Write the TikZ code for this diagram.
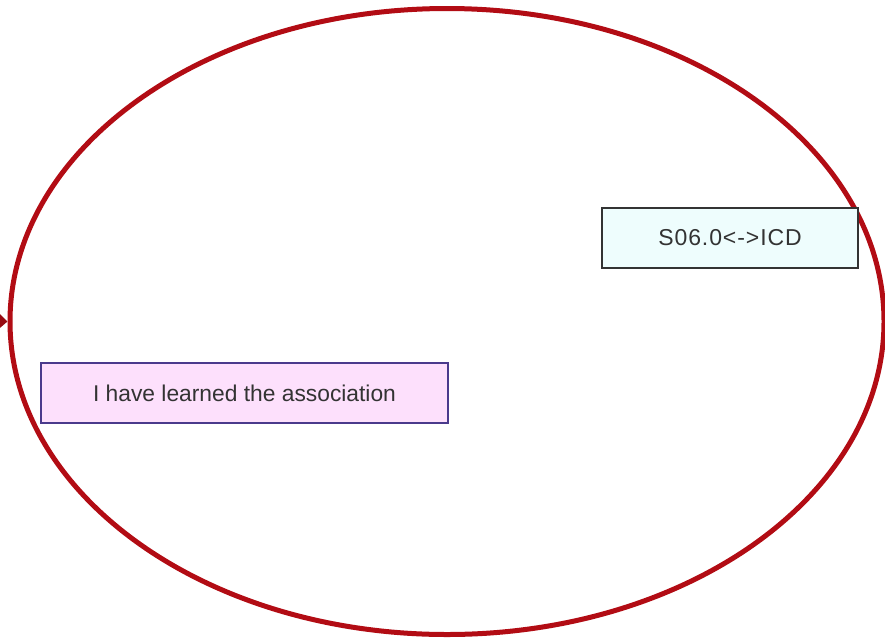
\documentclass[tikz,border=0pt]{standalone}
\usepackage{fontspec}
\setmainfont{Liberation Sans}
\usetikzlibrary{arrows.meta,shapes.geometric}
\definecolor{ellred}{HTML}{B20C14}
\definecolor{cyanfill}{HTML}{EEFDFD}
\definecolor{pinkfill}{HTML}{FDE0FC}
\definecolor{purpborder}{HTML}{4A3A8C}
\definecolor{txtgray}{HTML}{333333}
\tikzset{
  box/.style={draw, line width=1.5pt, minimum height=60pt, inner sep=0pt, text=txtgray},
}
\begin{document}
\begin{tikzpicture}[x=1pt,y=-1pt]
\useasboundingbox (0,0) rectangle (885,638);
\node[draw=ellred, line width=5pt, ellipse, minimum width=874pt, minimum height=626pt, inner sep=0pt] (ell) at (447,321.5) {};
\coordinate (src) at (-30,320);
\draw[ellred!85!black, line width=2pt, -{Triangle[length=10pt,width=18pt]}] (src) -- (ell.west);
\node[box, draw=black!80, fill=cyanfill, minimum width=256pt, font=\fontsize{23}{26}\selectfont\addfontfeatures{LetterSpace=4}] (icd) at (730,238) {S06.0<->ICD};
\node[box, draw=purpborder, fill=pinkfill, minimum width=407pt, font=\fontsize{22.8}{26}\selectfont] (assoc) at (244.5,393) {I have learned the association};
\end{tikzpicture}
\end{document}
